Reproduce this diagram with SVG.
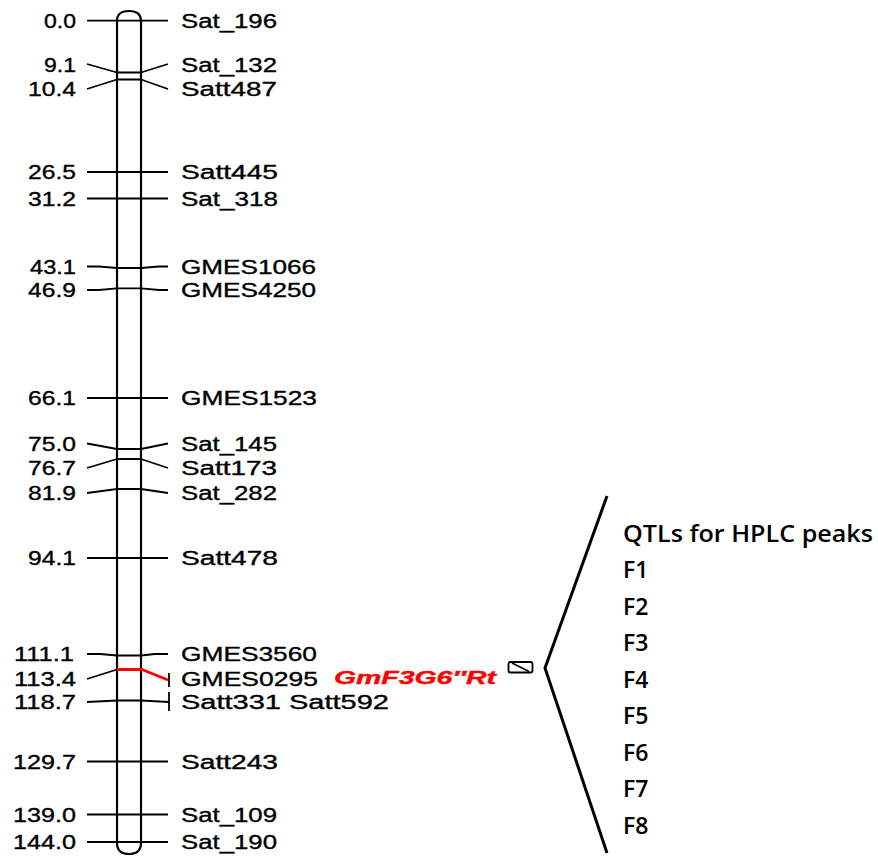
<svg xmlns="http://www.w3.org/2000/svg" width="878" height="857" viewBox="0 0 878 857">
<style>
.bg{fill:#ffffff}
.chr{fill:none;stroke:#000;stroke-width:2.2}
.mk{fill:none;stroke:#000;stroke-width:1.8;stroke-linejoin:round}
.red{fill:none;stroke:#ff0000;stroke-width:2.8;stroke-linejoin:round}
.pos{font-family:"Liberation Sans",Arial,sans-serif;font-size:20px;fill:#000;stroke:#000;stroke-width:0.35;text-anchor:end}
.nm{font-family:"Liberation Sans",Arial,sans-serif;font-size:20px;fill:#000;stroke:#000;stroke-width:0.35}
.gene{font-family:"Liberation Sans",Arial,sans-serif;font-size:19px;font-weight:bold;font-style:italic;fill:#ff0000;stroke:#ff0000;stroke-width:0.4}
.qtl{font-family:"Open Sans","Noto Sans",sans-serif;font-size:23px;font-weight:600;fill:#000}
.brk{fill:none;stroke:#000;stroke-width:3}
</style>
<rect class="bg" x="0" y="0" width="878" height="857"/>
<g id="chromosome">
<path class="chr" d="M117,843 L117,21 Q117,11 129,11 Q141,11 141,21 L141,843 Q141,854 129,854 Q117,854 117,843 Z"/>
</g>
<g id="connectors">
<polyline class="mk" points="87,20.7 168,20.7"/>
<polyline class="mk" points="87,64 117,72.5 141,72.5 168,64"/>
<polyline class="mk" points="87,89 117,79.5 141,79.5 168,89"/>
<polyline class="mk" points="87,172 168,172"/>
<polyline class="mk" points="87,198.5 168,198.5"/>
<polyline class="mk" points="87,266.5 99,266.5 117,268 141,268 159,266.5 168,266.5"/>
<polyline class="mk" points="87,290 99,290 117,288.3 141,288.3 159,290 168,290"/>
<polyline class="mk" points="87,398 168,398"/>
<polyline class="mk" points="87,443.5 117,449 141,449 168,443.5"/>
<polyline class="mk" points="87,468 117,459 141,459 168,468"/>
<polyline class="mk" points="87,493 117,489 141,489 168,493"/>
<polyline class="mk" points="87,558 168,558"/>
<polyline class="mk" points="87,654 100,654 117,655.5 141,655.5 155,654 168,654"/>
<polyline class="mk" points="87,679 117,669.5"/>
<polyline class="red" points="117,669.5 142,669.5 168,680"/>
<line class="mk" x1="169" y1="673" x2="169" y2="687"/>
<polyline class="mk" points="87,702 117,700.5 141,700.5 169,702"/>
<line class="mk" x1="169" y1="692" x2="169" y2="711"/>
<polyline class="mk" points="87,761.5 168,761.5"/>
<polyline class="mk" points="87,814.5 168,814.5"/>
<polyline class="mk" points="87,842 168,842"/>
<polyline class="brk" points="607,496 545,668 607,853"/>
</g>
<g id="m_Sat_196"><text class="pos" x="76" y="27.7" textLength="32" lengthAdjust="spacingAndGlyphs">0.0</text><text class="nm" x="181" y="27.7" textLength="96" lengthAdjust="spacingAndGlyphs">Sat_196</text></g>
<g id="m_Sat_132"><text class="pos" x="76" y="72" textLength="32" lengthAdjust="spacingAndGlyphs">9.1</text><text class="nm" x="181" y="72" textLength="96" lengthAdjust="spacingAndGlyphs">Sat_132</text></g>
<g id="m_Satt487"><text class="pos" x="76" y="96" textLength="48" lengthAdjust="spacingAndGlyphs">10.4</text><text class="nm" x="181" y="96" textLength="96" lengthAdjust="spacingAndGlyphs">Satt487</text></g>
<g id="m_Satt445"><text class="pos" x="76" y="179" textLength="48" lengthAdjust="spacingAndGlyphs">26.5</text><text class="nm" x="181" y="179" textLength="97" lengthAdjust="spacingAndGlyphs">Satt445</text></g>
<g id="m_Sat_318"><text class="pos" x="76" y="205.5" textLength="48" lengthAdjust="spacingAndGlyphs">31.2</text><text class="nm" x="181" y="205.5" textLength="97" lengthAdjust="spacingAndGlyphs">Sat_318</text></g>
<g id="m_GMES1066"><text class="pos" x="76" y="274" textLength="46" lengthAdjust="spacingAndGlyphs">43.1</text><text class="nm" x="181" y="274" textLength="135" lengthAdjust="spacingAndGlyphs">GMES1066</text></g>
<g id="m_GMES4250"><text class="pos" x="76" y="297" textLength="48" lengthAdjust="spacingAndGlyphs">46.9</text><text class="nm" x="181" y="297" textLength="135" lengthAdjust="spacingAndGlyphs">GMES4250</text></g>
<g id="m_GMES1523"><text class="pos" x="76" y="405" textLength="48" lengthAdjust="spacingAndGlyphs">66.1</text><text class="nm" x="181" y="405" textLength="136" lengthAdjust="spacingAndGlyphs">GMES1523</text></g>
<g id="m_Sat_145"><text class="pos" x="76" y="450.5" textLength="48" lengthAdjust="spacingAndGlyphs">75.0</text><text class="nm" x="181" y="450.5" textLength="96" lengthAdjust="spacingAndGlyphs">Sat_145</text></g>
<g id="m_Satt173"><text class="pos" x="76" y="475" textLength="48" lengthAdjust="spacingAndGlyphs">76.7</text><text class="nm" x="181" y="475" textLength="96" lengthAdjust="spacingAndGlyphs">Satt173</text></g>
<g id="m_Sat_282"><text class="pos" x="76" y="500" textLength="48" lengthAdjust="spacingAndGlyphs">81.9</text><text class="nm" x="181" y="500" textLength="96" lengthAdjust="spacingAndGlyphs">Sat_282</text></g>
<g id="m_Satt478"><text class="pos" x="76" y="565" textLength="48" lengthAdjust="spacingAndGlyphs">94.1</text><text class="nm" x="181" y="565" textLength="97" lengthAdjust="spacingAndGlyphs">Satt478</text></g>
<g id="m_GMES3560"><text class="pos" x="74" y="661" textLength="60" lengthAdjust="spacingAndGlyphs">111.1</text><text class="nm" x="181" y="661" textLength="136" lengthAdjust="spacingAndGlyphs">GMES3560</text></g>
<g id="m_GMES0295"><text class="pos" x="76" y="685.5" textLength="62" lengthAdjust="spacingAndGlyphs">113.4</text><text class="nm" x="181" y="685.5" textLength="137" lengthAdjust="spacingAndGlyphs">GMES0295</text></g>
<g id="m_Satt331_Satt592"><text class="pos" x="76" y="709" textLength="62" lengthAdjust="spacingAndGlyphs">118.7</text><text class="nm" x="181" y="709" textLength="208" lengthAdjust="spacingAndGlyphs">Satt331 Satt592</text></g>
<g id="m_Satt243"><text class="pos" x="76" y="768.7" textLength="63" lengthAdjust="spacingAndGlyphs">129.7</text><text class="nm" x="181" y="768.7" textLength="97" lengthAdjust="spacingAndGlyphs">Satt243</text></g>
<g id="m_Sat_109"><text class="pos" x="76" y="822" textLength="63" lengthAdjust="spacingAndGlyphs">139.0</text><text class="nm" x="181" y="822" textLength="96" lengthAdjust="spacingAndGlyphs">Sat_109</text></g>
<g id="m_Sat_190"><text class="pos" x="76" y="849" textLength="63" lengthAdjust="spacingAndGlyphs">144.0</text><text class="nm" x="181" y="849" textLength="96" lengthAdjust="spacingAndGlyphs">Sat_190</text></g>
<g id="gene"><text class="gene" x="334" y="683.5" textLength="162" lengthAdjust="spacingAndGlyphs">GmF3G6″Rt</text></g>
<g id="qtl_box">
<rect x="508.5" y="662" width="24" height="10.5" rx="2" fill="none" stroke="#000" stroke-width="1.8"/>
<line x1="512" y1="663" x2="529" y2="671.5" stroke="#000" stroke-width="1.6"/>
</g>
<g id="qtl_list">
<text class="qtl" x="623" y="541.5" textLength="250" lengthAdjust="spacingAndGlyphs">QTLs for HPLC peaks</text>
<text class="qtl" x="623" y="578">F1</text>
<text class="qtl" x="623" y="614.5">F2</text>
<text class="qtl" x="623" y="651">F3</text>
<text class="qtl" x="623" y="687.5">F4</text>
<text class="qtl" x="623" y="724">F5</text>
<text class="qtl" x="623" y="760.5">F6</text>
<text class="qtl" x="623" y="797">F7</text>
<text class="qtl" x="623" y="833.5">F8</text>
</g>
</svg>
